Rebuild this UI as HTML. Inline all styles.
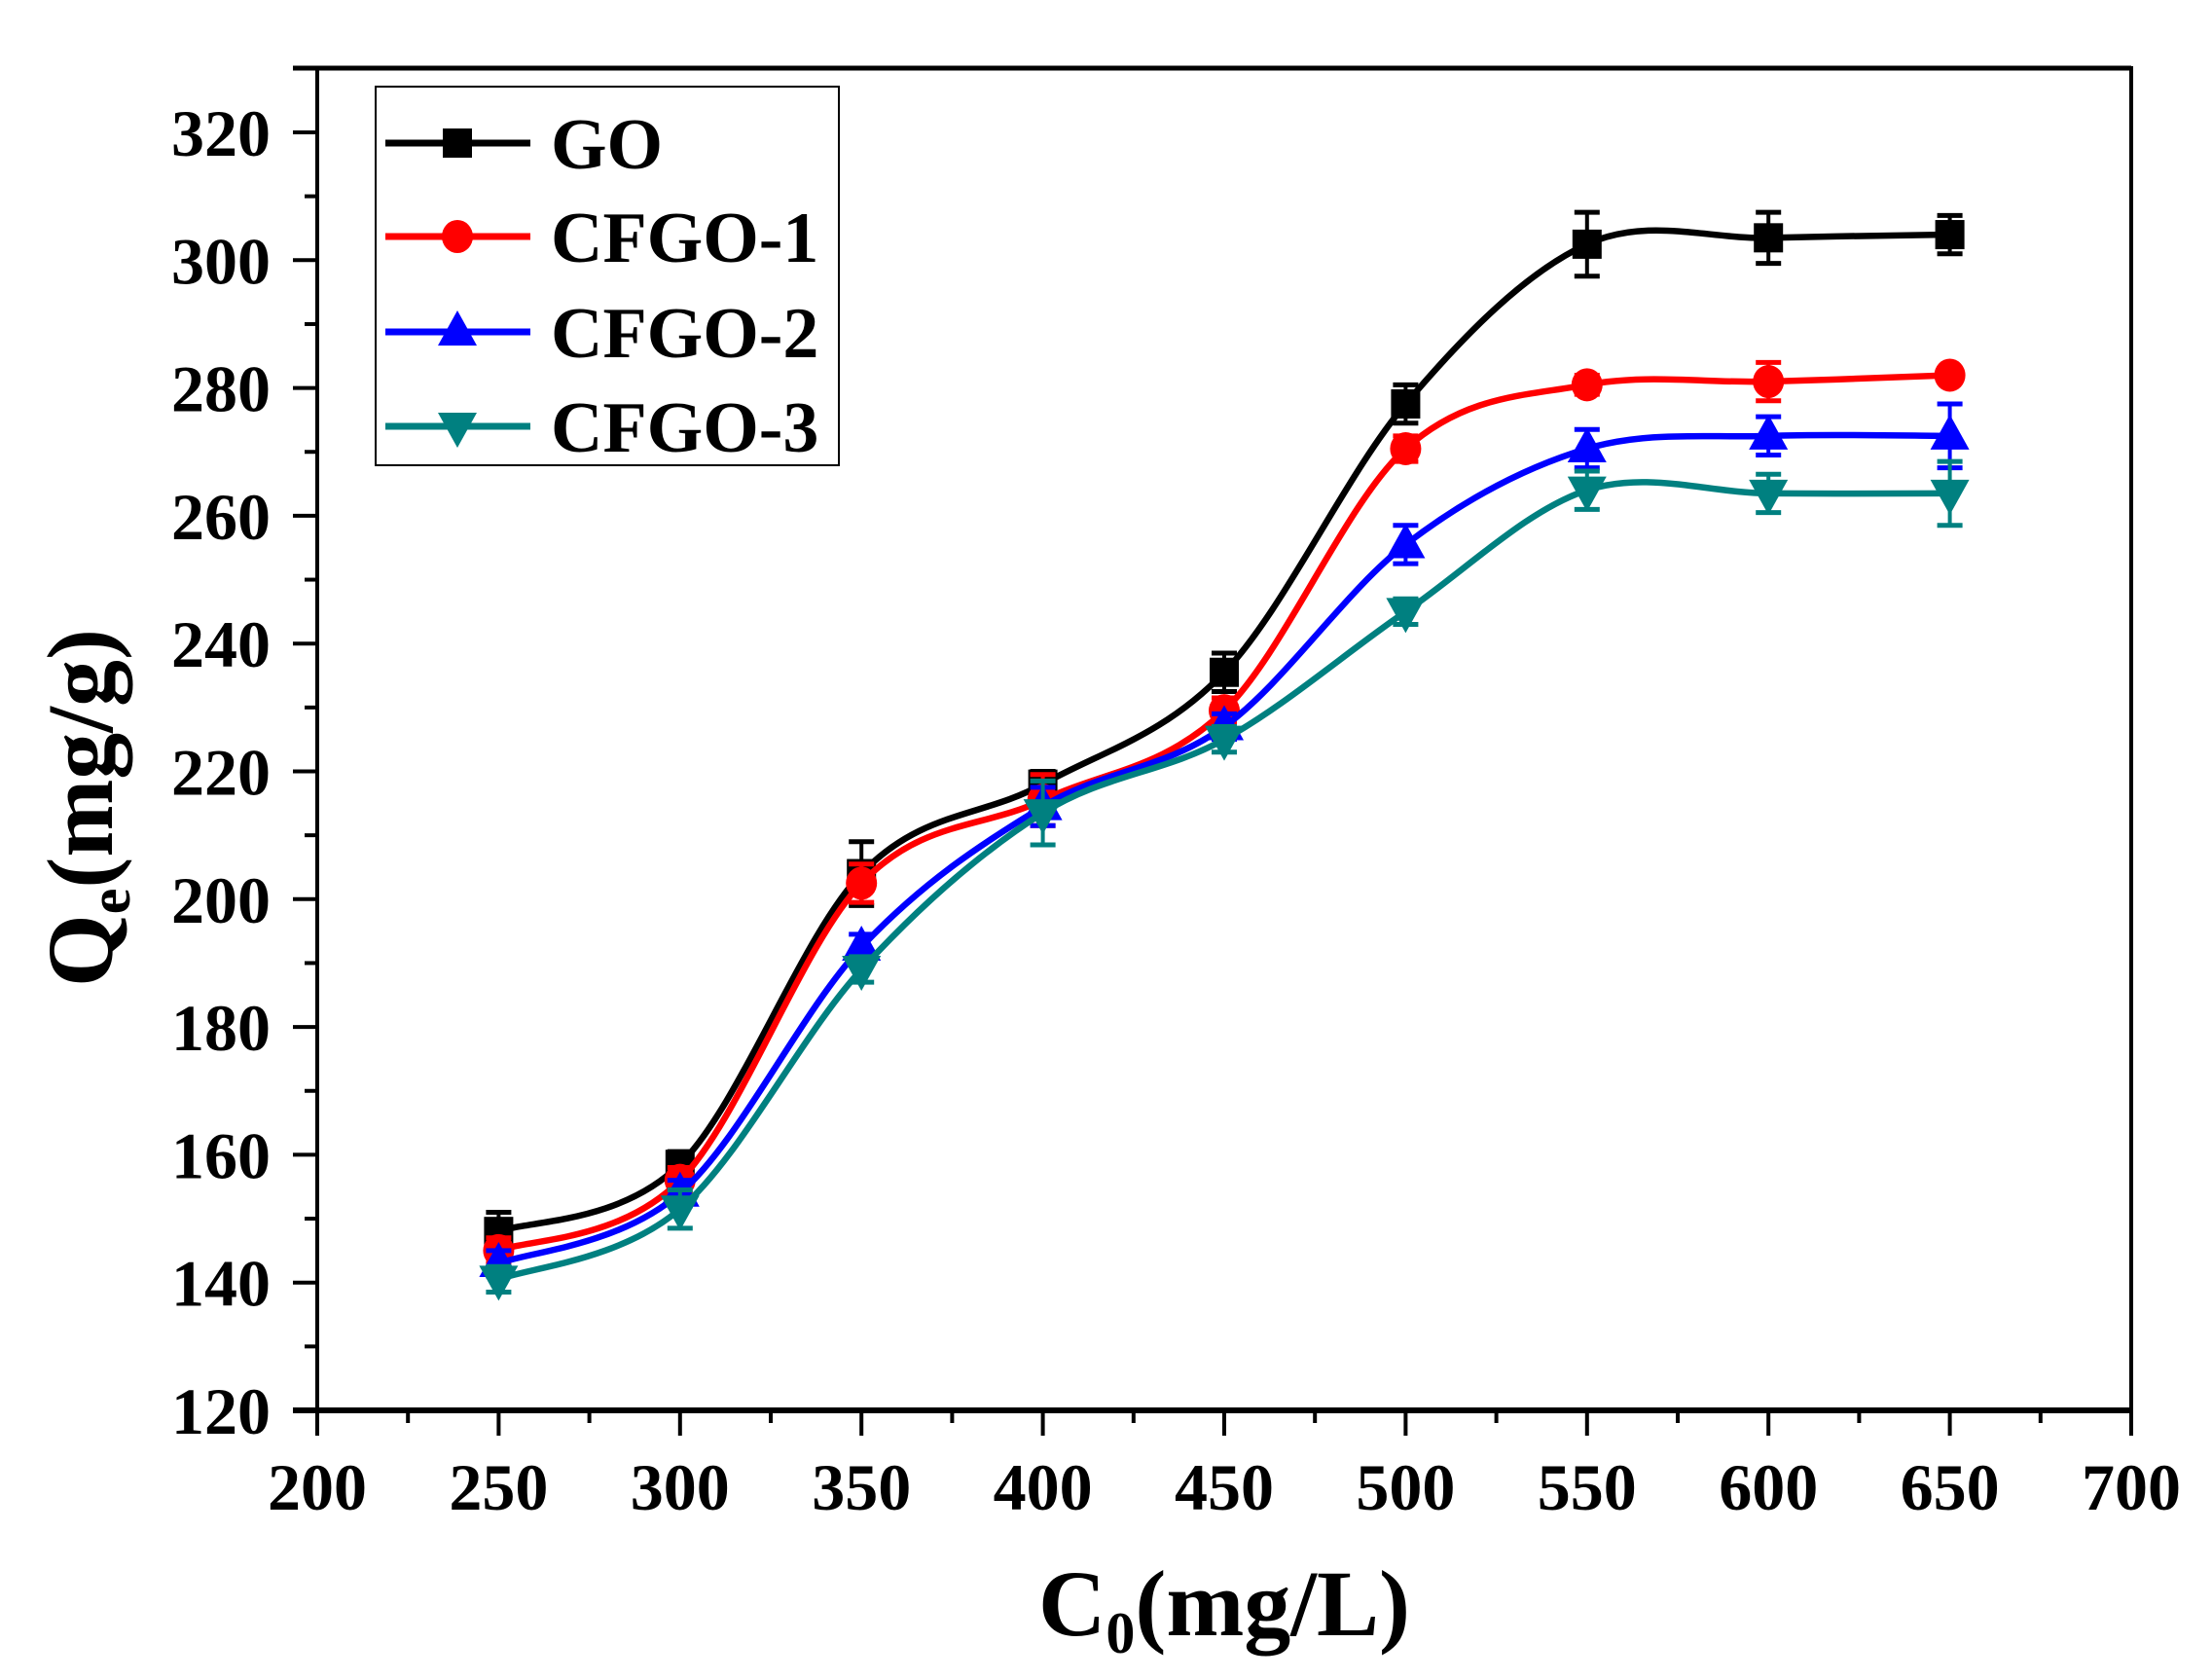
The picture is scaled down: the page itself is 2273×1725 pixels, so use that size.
<!DOCTYPE html>
<html><head><meta charset="utf-8"><style>
html,body{margin:0;padding:0;background:#fff;}
svg{display:block;}
text{font-family:"Liberation Serif",serif;font-weight:bold;fill:#000;}
</style></head><body>
<svg id="s" width="2273" height="1725" viewBox="0 0 2273 1725" xmlns="http://www.w3.org/2000/svg"></svg>
<script>
const NS="http://www.w3.org/2000/svg";
const s=document.getElementById('s');
function el(t,a,txt){const e=document.createElementNS(NS,t);for(const k in a)e.setAttribute(k,a[k]);if(txt!==undefined)e.textContent=txt;s.appendChild(e);return e;}
const X=v=>326+(v-200)*3.728, Y=v=>1449-(v-120)*6.565;
const L=326,R=2190,T=70,B=1449;
el('rect',{x:L,y:T,width:R-L,height:B-T,fill:'none',stroke:'#000','stroke-width':4});
el('line',{x1:L-25,y1:T,x2:R,y2:T,stroke:'#000','stroke-width':5});
el('line',{x1:L-25,y1:B,x2:R,y2:B,stroke:'#000','stroke-width':6});
for(let v=120;v<=330;v+=10){const y=Y(v);const maj=v%20==0;
 if(v>320)continue;
 el('line',{x1:L-(maj?25:13),y1:y,x2:L,y2:y,stroke:'#000','stroke-width':4});
 if(maj)el('text',{x:278,y:y+24,'text-anchor':'end','font-size':68},v);}
for(let v=200;v<=700;v+=25){const x=X(v);const maj=v%50==0;
 el('line',{x1:x,y1:B,x2:x,y2:B+(maj?26:13),stroke:'#000','stroke-width':4});
 if(maj)el('text',{x:x,y:1551,'text-anchor':'middle','font-size':68},v);}
const xt=el('text',{x:1258,y:1680,'text-anchor':'middle','font-size':96});
xt.innerHTML='C<tspan font-size="60" dy="18">0</tspan><tspan dy="-18">(mg/L)</tspan>';
const yt=el('text',{transform:'translate(115,830) rotate(-90)','text-anchor':'middle','font-size':96});
yt.innerHTML='Q<tspan font-size="60" dy="18">e</tspan><tspan dy="-18">(mg/g)</tspan>';
const xs=[250,300,350,400,450,500,550,600,650];
const series=[
 {c:'#000',m:'sq',d:[148,158.5,204,218,235.5,277.5,302.5,303.5,304],e:[3,2,5,2,3,3,5,4,3]},
 {c:'#ff0000',m:'ci',d:[145,156,202.5,215.5,229.5,270.5,280.5,281,282],e:[2,2,3,4,2,2,1.5,3,1]},
 {c:'#0000ff',m:'up',d:[143,154,192.5,214.5,227,255.5,270.5,272.5,272.5],e:[2,2,2,3,2,3,3,3,5]},
 {c:'#008080',m:'dn',d:[140.5,151.5,189,213.5,225,245,264,263.5,263.5],e:[2,3,2,5,2,2,3,3,5]}];
function marker(m,x,y,c){
 if(m=='sq')el('rect',{x:x-15,y:y-15,width:30,height:30,fill:c});
 else if(m=='ci')el('ellipse',{cx:x,cy:y,rx:16,ry:17,fill:c});
 else if(m=='up')el('polygon',{points:`${x},${y-22} ${x-20},${y+14} ${x+20},${y+14}`,fill:c});
 else el('polygon',{points:`${x},${y+22} ${x-20},${y-14} ${x+20},${y-14}`,fill:c});}
series.forEach(S=>{
 const P=xs.map((v,i)=>[X(v),Y(S.d[i])]);
 let d=`M${P[0][0]},${P[0][1]}`;
 for(let i=0;i<P.length-1;i++){const p0=P[Math.max(0,i-1)],p1=P[i],p2=P[i+1],p3=P[Math.min(P.length-1,i+2)];
  const c1=[p1[0]+(p2[0]-p0[0])/6,p1[1]+(p2[1]-p0[1])/6],c2=[p2[0]-(p3[0]-p1[0])/6,p2[1]-(p3[1]-p1[1])/6];
  d+=` C${c1[0]},${c1[1]} ${c2[0]},${c2[1]} ${p2[0]},${p2[1]}`;}
 el('path',{d:d,fill:'none',stroke:S.c,'stroke-width':6.5});
 P.forEach((p,i)=>{const e=S.e[i]*6.565;
  el('line',{x1:p[0],y1:p[1]-e,x2:p[0],y2:p[1]+e,stroke:S.c,'stroke-width':4});
  el('line',{x1:p[0]-13,y1:p[1]-e,x2:p[0]+13,y2:p[1]-e,stroke:S.c,'stroke-width':5});
  el('line',{x1:p[0]-13,y1:p[1]+e,x2:p[0]+13,y2:p[1]+e,stroke:S.c,'stroke-width':5});
  marker(S.m,p[0],p[1],S.c);});
});
el('rect',{x:386,y:89,width:476,height:389,fill:'#fff',stroke:'#000','stroke-width':2});
const names=['GO','CFGO-1','CFGO-2','CFGO-3'],ly=[147,243,341,438];
series.forEach((S,i)=>{el('line',{x1:396,y1:ly[i],x2:545,y2:ly[i],stroke:S.c,'stroke-width':7});
 marker(S.m,470,ly[i],S.c);
 el('text',{x:566,y:ly[i]+26,'font-size':74},names[i]);});
</script>
</body></html>
